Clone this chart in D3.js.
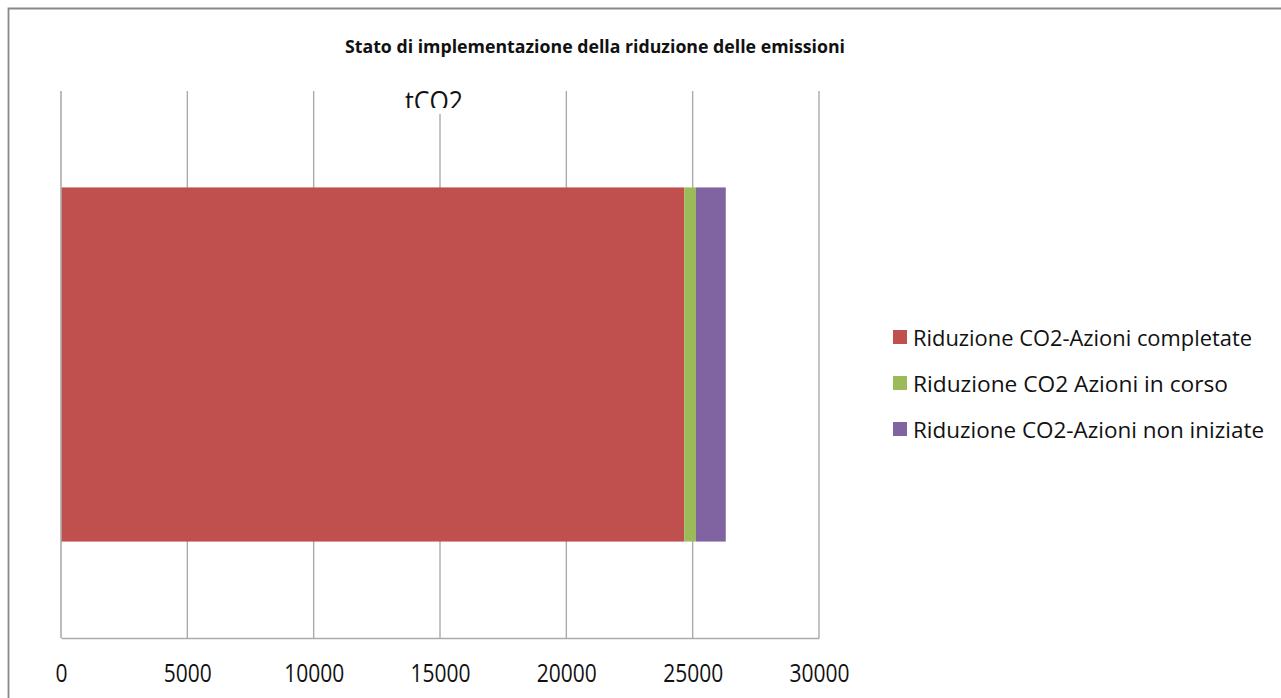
<!DOCTYPE html>
<html>
<head>
<meta charset="utf-8">
<script src="https://cdn.jsdelivr.net/npm/d3@7"></script>
<style>
  html, body { margin: 0; padding: 0; background: #fff; }
  svg { display: block; }
  text { font-family: "Open Sans", "Liberation Sans", sans-serif; fill: #111; }
</style>
</head>
<body>
<svg id="chart" width="1281" height="698"></svg>
<script>
// Emission-reduction status, tonnes of CO2
const categories = ["tCO2"];
const seriesNames = [
  "Riduzione CO2-Azioni completate",
  "Riduzione CO2 Azioni in corso",
  "Riduzione CO2-Azioni non iniziate"
];
const completate = [24670];
const inCorso = [460];
const nonIniziate = [1180];
const tickValues = [0, 5000, 10000, 15000, 20000, 25000, 30000];
const colors = ["#C0504D", "#9BBB59", "#8064A2"];

const rows = categories.map((c, i) => ({
  cat: c,
  [seriesNames[0]]: completate[i],
  [seriesNames[1]]: inCorso[i],
  [seriesNames[2]]: nonIniziate[i]
}));

const svg = d3.select("#chart");
const W = 1281, H = 698;
const plot = { left: 61, right: 819, top: 91, bottom: 638 };

// outer chart frame
svg.append("path")
  .attr("d", `M8.5,${H + 5} L8.5,8.5 L${W + 5},8.5`)
  .attr("fill", "none").attr("stroke", "#888").attr("stroke-width", 1.8);

// title
svg.append("text")
  .attr("x", 595).attr("y", 53)
  .attr("text-anchor", "middle")
  .attr("font-weight", "bold").attr("font-size", 18.5)
  .attr("textLength", 500).attr("lengthAdjust", "spacingAndGlyphs")
  .text("Stato di implementazione della riduzione delle emissioni");

const x = d3.scaleLinear().domain([0, 30000]).range([plot.left, plot.right]);
const y = d3.scaleBand().domain(categories).range([plot.top, plot.bottom]).padding(0.214);

// vertical gridlines
svg.append("g").selectAll("line").data(tickValues.slice(1)).join("line")
  .attr("x1", d => x(d)).attr("x2", d => x(d))
  .attr("y1", plot.top).attr("y2", plot.bottom)
  .attr("stroke", "#ababab").attr("stroke-width", 1.4);

// value axis at the bottom
const labelScale = 1.25;
const xAxis = svg.append("g")
  .attr("transform", `translate(0,${plot.bottom})`)
  .call(d3.axisBottom(x).tickValues(tickValues).tickSize(0).tickFormat(d3.format("d")));
xAxis.select(".domain").attr("stroke", "#ababab").attr("stroke-width", 1.6);
xAxis.selectAll("text")
  .attr("font-size", 21).attr("fill", "#111")
  .attr("font-family", "\"Open Sans\", \"Liberation Sans\", sans-serif")
  .attr("transform", `scale(1,${labelScale})`)
  .attr("dy", "0")
  .attr("y", (682 - plot.bottom) / labelScale);

// stacked bars
const stack = d3.stack().keys(seriesNames);
const layers = stack(rows);
svg.append("g").selectAll("g").data(layers).join("g")
  .attr("fill", (d, i) => colors[i])
  .selectAll("rect").data(d => d).join("rect")
  .attr("x", d => x(d[0]))
  .attr("width", d => x(d[1]) - x(d[0]))
  .attr("y", d => y(d.data.cat))
  .attr("height", y.bandwidth());

// category axis line
svg.append("line")
  .attr("x1", plot.left).attr("x2", plot.left)
  .attr("y1", plot.top).attr("y2", plot.bottom)
  .attr("stroke", "#ababab").attr("stroke-width", 1.6);

// unit label in a small white box, clipped at its lower edge
svg.append("defs").append("clipPath").attr("id", "unitClip")
  .append("rect").attr("x", 390).attr("y", 80).attr("width", 90).attr("height", 28);
svg.append("rect").attr("x", 396).attr("y", 84).attr("width", 76).attr("height", 30).attr("fill", "#fff");
svg.append("text")
  .attr("clip-path", "url(#unitClip)")
  .attr("x", 405).attr("y", 111)
  .attr("font-size", 28)
  .attr("textLength", 58).attr("lengthAdjust", "spacingAndGlyphs")
  .text(categories[0]);

// legend
const legend = svg.append("g").selectAll("g").data(seriesNames).join("g")
  .attr("transform", (d, i) => `translate(893,${337 + i * 46})`);
legend.append("rect")
  .attr("x", 0).attr("y", -7).attr("width", 14).attr("height", 14)
  .attr("fill", (d, i) => colors[i]);
const legendWidths = [339, 315, 351];
legend.append("text")
  .attr("x", 20).attr("y", 8.5)
  .attr("font-size", 22.5)
  .attr("textLength", (d, i) => legendWidths[i]).attr("lengthAdjust", "spacingAndGlyphs")
  .text(d => d);
</script>
</body>
</html>
